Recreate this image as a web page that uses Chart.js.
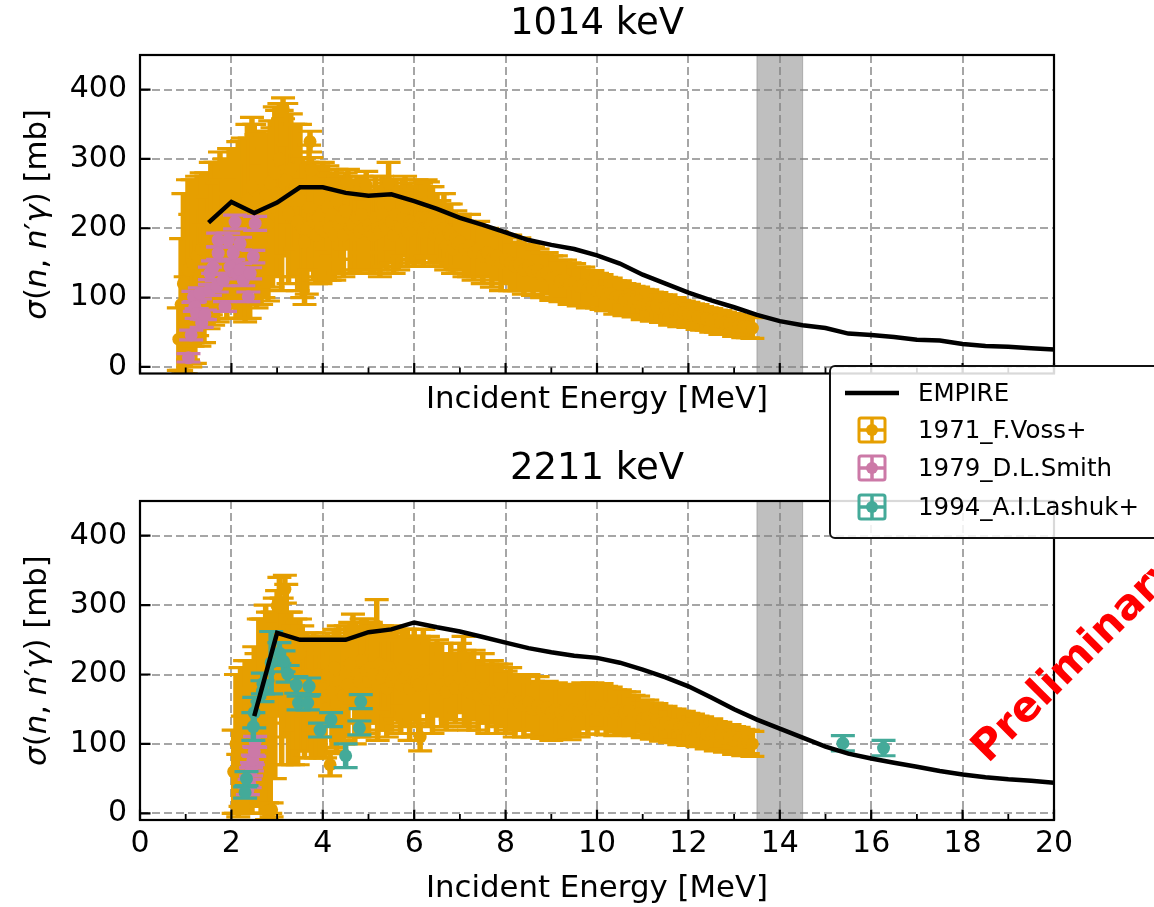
<!DOCTYPE html>
<html>
<head>
<meta charset="utf-8">
<title>n,n'gamma cross sections</title>
<script src="https://cdn.jsdelivr.net/npm/chart.js@4.4.0/dist/chart.umd.min.js"></script>
<style>
  html, body { margin: 0; padding: 0; background: #fff; }
  #page { position: relative; width: 1154px; height: 907px; overflow: hidden; font-family: "DejaVu Sans", sans-serif; }
  canvas { position: absolute; left: 0; }
  #c1 { top: 0; }
  #c2 { top: 440px; }
  #legend {
    position: absolute; left: 829px; top: 365px; width: 340px; height: 170px;
    border: 2px solid #111; border-radius: 6px; background: rgba(255,255,255,0.85);
    z-index: 5;
  }
  #legend .icon { position: absolute; }
  #legend .label { position: absolute; left: 87px; font-size: 24.5px; line-height: 1; color: #000; white-space: nowrap; }
</style>
</head>
<body>
<div id="page">
  <canvas id="c1" width="1154" height="440"></canvas>
  <canvas id="c2" width="1154" height="467"></canvas>
  <div id="legend"></div>
</div>
<script>
// axes
const xTicks = [0, 2, 4, 6, 8, 10, 12, 14, 16, 18, 20];
const xMinorTicks = [1, 3, 5, 7, 9, 11, 13, 15, 17, 19];
const yTicks = [0, 100, 200, 300, 400];
const bandRange = [13.5, 14.5];

// EMPIRE evaluation, 1014 keV
const empire1014E = [1.5, 2.0, 2.5, 3.0, 3.5, 4.0, 4.5, 5.0, 5.5, 6.0, 6.5, 7.0, 7.5, 8.0, 8.5, 9.0, 9.5, 10.0, 10.5, 11.0, 11.5, 12.0, 12.5, 13.0, 13.5, 14.0, 14.5, 15.0, 15.5, 16.0, 16.5, 17.0, 17.5, 18.0, 18.5, 19.0, 19.5, 20.0];
const empire1014Y = [208, 238, 222, 237, 259, 259, 251, 247, 249, 239, 228, 215, 205, 194, 183, 176, 170, 161, 149, 133, 120, 107, 96, 86, 75, 66, 60, 56, 48, 46, 43, 39, 38, 33, 30, 29, 27, 25];

// EMPIRE evaluation, 2211 keV
const empire2211E = [2.5, 3.0, 3.5, 4.0, 4.5, 5.0, 5.5, 6.0, 6.5, 7.0, 7.5, 8.0, 8.5, 9.0, 9.5, 10.0, 10.5, 11.0, 11.5, 12.0, 12.5, 13.0, 13.5, 14.0, 14.5, 15.0, 15.5, 16.0, 16.5, 17.0, 17.5, 18.0, 18.5, 19.0, 19.5, 20.0];
const empire2211Y = [140, 260, 250, 250, 250, 261, 265, 275, 268, 262, 254, 246, 238, 232, 227, 224, 217, 207, 196, 183, 167, 150, 135, 122, 109, 96, 86, 79, 73, 67, 61, 56, 52, 49, 47, 44];

// 1971_F.Voss+, 1014 keV
const voss1014E = [0.85, 0.90, 0.95, 1.00, 1.05, 1.10, 1.15, 1.20, 1.25, 1.30, 1.35, 1.40, 1.45, 1.50, 1.55, 1.60, 1.65, 1.70, 1.75, 1.80, 1.85, 1.90, 1.95, 2.00, 2.05, 2.10, 2.15, 2.20, 2.25, 2.30, 2.35, 2.40, 2.45, 2.50, 2.55, 2.60, 2.65, 2.70, 2.75, 2.80, 2.85, 2.90, 2.95, 3.00, 3.05, 3.10, 3.13, 3.20, 3.25, 3.30, 3.35, 3.40, 3.45, 3.50, 3.55, 3.60, 3.65, 3.70, 3.72, 3.75, 3.80, 3.85, 3.90, 3.95, 4.00, 4.05, 4.10, 4.15, 4.20, 4.25, 4.30, 4.35, 4.40, 4.45, 4.50, 4.55, 4.60, 4.65, 4.70, 4.75, 4.80, 4.85, 4.90, 4.95, 5.00, 5.05, 5.10, 5.15, 5.20, 5.25, 5.30, 5.35, 5.40, 5.44, 5.50, 5.55, 5.60, 5.65, 5.70, 5.75, 5.80, 5.85, 5.90, 5.95, 6.00, 6.05, 6.10, 6.15, 6.20, 6.25, 6.30, 6.35, 6.40, 6.45, 6.50, 6.55, 6.60, 6.65, 6.70, 6.75, 6.80, 6.85, 6.90, 6.95, 7.00, 7.10, 7.20, 7.30, 7.40, 7.50, 7.60, 7.70, 7.80, 7.90, 8.00, 8.10, 8.20, 8.30, 8.40, 8.50, 8.60, 8.70, 8.80, 8.90, 9.00, 9.10, 9.20, 9.30, 9.40, 9.50, 9.60, 9.70, 9.80, 9.90, 10.00, 10.10, 10.20, 10.30, 10.40, 10.50, 10.60, 10.70, 10.80, 10.90, 11.00, 11.10, 11.20, 11.30, 11.40, 11.50, 11.60, 11.70, 11.80, 11.90, 12.00, 12.10, 12.20, 12.30, 12.40, 12.50, 12.60, 12.70, 12.80, 12.90, 13.00, 13.10, 13.20, 13.30, 13.40];
const voss1014Y = [40, 90, 120, 60, 140, 110, 150, 95, 160, 130, 170, 120, 175, 150, 185, 140, 190, 165, 200, 175, 195, 160, 210, 185, 200, 170, 215, 190, 225, 180, 240, 200, 260, 230, 210, 245, 190, 220, 250, 205, 265, 230, 280, 250, 300, 240, 373, 270, 220, 285, 240, 260, 210, 240, 200, 180, 200, 230, 325, 284, 210, 190, 215, 200, 225, 195, 230, 200, 220, 190, 240, 205, 215, 190, 225, 265, 200, 205, 190, 215, 195, 220, 200, 262, 205, 195, 190, 215, 200, 195, 220, 205, 200, 265, 210, 190, 220, 200, 200, 215, 230, 195, 210, 205, 200, 235, 205, 215, 195, 215, 212, 205, 210, 190, 205, 195, 185, 200, 175, 195, 190, 170, 185, 178, 180, 170, 175, 165, 170, 160, 165, 155, 160, 150, 155, 150, 145, 148, 140, 145, 138, 140, 132, 135, 128, 130, 124, 126, 120, 122, 116, 118, 112, 114, 110, 108, 105, 106, 100, 102, 97, 98, 94, 95, 90, 91, 87, 88, 84, 85, 80, 82, 77, 78, 75, 74, 72, 70, 69, 67, 66, 64, 63, 62, 60, 59, 58, 57, 56];
const voss1014Err = [45, 95, 130, 70, 130, 110, 120, 90, 115, 100, 110, 85, 105, 95, 110, 80, 105, 100, 110, 95, 105, 90, 105, 100, 115, 100, 110, 120, 105, 115, 110, 130, 100, 120, 125, 95, 100, 120, 85, 110, 90, 115, 95, 120, 80, 130, 15, 110, 100, 80, 110, 90, 100, 110, 100, 90, 95, 90, 15, 18, 85, 70, 75, 80, 70, 70, 60, 75, 60, 65, 45, 70, 60, 60, 55, 20, 65, 65, 55, 60, 60, 55, 60, 20, 65, 60, 55, 60, 60, 65, 55, 60, 60, 30, 60, 55, 50, 60, 55, 55, 45, 50, 55, 55, 55, 35, 55, 50, 50, 55, 55, 55, 50, 40, 45, 45, 40, 50, 35, 40, 45, 35, 40, 38, 40, 40, 45, 40, 40, 40, 35, 40, 35, 40, 35, 40, 35, 38, 35, 32, 35, 30, 32, 30, 32, 30, 30, 28, 30, 27, 28, 26, 27, 25, 25, 25, 24, 22, 24, 22, 23, 21, 22, 20, 22, 20, 21, 19, 20, 19, 20, 18, 19, 17, 18, 17, 18, 17, 16, 17, 16, 17, 16, 15, 16, 15, 16, 15, 15];

// 1979_D.L.Smith, 1014 keV
const smith1014E = [1.06, 1.12, 1.17, 1.20, 1.24, 1.31, 1.35, 1.42, 1.53, 1.53, 1.60, 1.68, 1.71, 1.71, 1.82, 1.86, 1.93, 1.97, 2.04, 2.08, 2.12, 2.19, 2.19, 2.26, 2.37, 2.41, 2.48, 2.52];
const smith1014Y = [13, 46, 101, 87, 77, 106, 63, 75, 135, 111, 144, 116, 183, 164, 125, 87, 183, 144, 164, 209, 135, 178, 140, 125, 101, 135, 159, 207];
const smith1014Err = [6, 7, 8, 7, 7, 8, 6, 7, 9, 8, 9, 8, 10, 9, 8, 7, 10, 9, 9, 10, 8, 9, 9, 8, 7, 8, 9, 10];

// 1971_F.Voss+, 2211 keV
const voss2211E = [2.05, 2.10, 2.15, 2.20, 2.25, 2.30, 2.35, 2.40, 2.45, 2.50, 2.55, 2.60, 2.65, 2.70, 2.75, 2.78, 2.80, 2.85, 2.88, 2.90, 2.95, 3.00, 3.05, 3.10, 3.17, 3.20, 3.25, 3.30, 3.35, 3.40, 3.45, 3.50, 3.55, 3.60, 3.65, 3.70, 3.75, 3.80, 3.85, 3.90, 3.95, 4.00, 4.05, 4.10, 4.16, 4.20, 4.25, 4.30, 4.35, 4.40, 4.45, 4.50, 4.55, 4.60, 4.66, 4.70, 4.75, 4.80, 4.85, 4.90, 4.95, 5.00, 5.05, 5.10, 5.18, 5.20, 5.25, 5.30, 5.35, 5.40, 5.45, 5.50, 5.55, 5.60, 5.65, 5.70, 5.75, 5.80, 5.85, 5.90, 5.95, 6.00, 6.05, 6.10, 6.13, 6.20, 6.30, 6.40, 6.50, 6.60, 6.70, 6.80, 6.90, 7.00, 7.08, 7.10, 7.20, 7.30, 7.40, 7.50, 7.60, 7.70, 7.80, 7.90, 8.00, 8.10, 8.20, 8.30, 8.40, 8.50, 8.60, 8.70, 8.80, 8.90, 9.00, 9.10, 9.20, 9.30, 9.40, 9.50, 9.60, 9.70, 9.80, 9.90, 10.00, 10.10, 10.20, 10.30, 10.40, 10.50, 10.60, 10.70, 10.80, 10.90, 11.00, 11.10, 11.20, 11.30, 11.40, 11.50, 11.60, 11.70, 11.80, 11.90, 12.00, 12.10, 12.20, 12.30, 12.40, 12.50, 12.60, 12.70, 12.80, 12.90, 13.00, 13.10, 13.20, 13.30, 13.40];
const voss2211Y = [60, 100, 40, 110, 70, 130, 90, 150, 60, 160, 120, 190, 140, 200, 150, 3, 230, 120, 5, 210, 180, 299, 240, 190, 323, 220, 180, 230, 170, 200, 160, 230, 180, 150, 200, 170, 140, 190, 160, 200, 155, 180, 150, 200, 70, 175, 210, 160, 190, 175, 170, 200, 185, 215, 267, 175, 200, 190, 220, 180, 205, 190, 210, 200, 270, 185, 215, 195, 205, 180, 210, 190, 200, 200, 190, 185, 210, 195, 205, 180, 195, 200, 190, 185, 110, 205, 190, 180, 195, 185, 175, 190, 180, 195, 225, 180, 175, 185, 170, 180, 165, 175, 165, 170, 160, 165, 155, 160, 155, 160, 150, 155, 148, 152, 145, 150, 145, 148, 142, 150, 148, 155, 150, 155, 150, 155, 148, 152, 145, 148, 145, 148, 141, 143, 136, 138, 133, 134, 129, 131, 126, 128, 123, 125, 121, 122, 118, 119, 114, 116, 111, 112, 108, 109, 105, 106, 102, 103, 100];
const voss2211Err = [60, 100, 45, 100, 70, 90, 90, 70, 60, 80, 110, 90, 140, 80, 150, 12, 60, 120, 10, 80, 130, 22, 100, 120, 20, 110, 110, 60, 100, 80, 90, 50, 90, 70, 60, 80, 60, 70, 80, 55, 75, 70, 70, 60, 16, 80, 55, 70, 80, 70, 70, 70, 75, 60, 20, 75, 65, 80, 60, 70, 75, 75, 65, 70, 38, 80, 55, 75, 60, 70, 60, 70, 60, 65, 60, 70, 55, 70, 60, 75, 60, 65, 60, 70, 20, 60, 65, 65, 55, 60, 55, 55, 50, 50, 30, 55, 55, 50, 50, 50, 50, 45, 50, 45, 45, 45, 45, 40, 45, 40, 40, 42, 40, 38, 40, 38, 36, 36, 36, 35, 38, 33, 36, 33, 36, 32, 35, 30, 33, 30, 30, 27, 29, 26, 27, 25, 26, 24, 25, 23, 24, 22, 24, 22, 23, 21, 22, 20, 21, 20, 21, 19, 20, 19, 20, 18, 19, 17, 18];

// 1979_D.L.Smith, 2211 keV
const smith2211E = [2.36, 2.40, 2.43, 2.45, 2.47, 2.50, 2.52];
const smith2211Y = [33, 43, 60, 67, 77, 89, 103];
const smith2211Err = [6, 6, 6, 6, 7, 7, 8];

// 1994_A.I.Lashuk+, 2211 keV
const lashuk2211E = [2.30, 2.33, 2.48, 2.50, 2.68, 2.69, 2.87, 3.05, 3.14, 3.23, 3.42, 3.47, 3.67, 3.70, 3.94, 4.18, 4.50, 4.80, 4.83, 15.38, 16.27];
const lashuk2211Y = [30, 50, 125, 145, 176, 187, 217, 231, 219, 201, 185, 159, 159, 183, 120, 135, 83, 123, 161, 101, 94];
const lashuk2211Err = [8, 10, 20, 22, 15, 15, 45, 15, 15, 12, 12, 10, 10, 12, 10, 10, 17, 10, 10, 11, 11];

const legendLabels = ['EMPIRE', '1971_F.Voss+', '1979_D.L.Smith', '1994_A.I.Lashuk+'];
const colors = { empire: '#000000', voss: '#E69F00', smith: '#CC79A7', lashuk: '#44AA99' };

const yLabelParts = [['σ', true], ['(', false], ['n', true], [', ', false], ['n', true], ['′', false], ['γ', true], [')', false], [' [mb]', false]];
const FONT = "'DejaVu Sans', sans-serif";

Chart.defaults.font.family = FONT;
Chart.defaults.color = '#000';

const toPoints = (E, Y, Err) => E.map((e, i) => ({ x: e, y: Y[i], err: Err ? Err[i] : 0 }));

function lineSet(E, Y) {
  return {
    type: 'line', label: 'EMPIRE', data: toPoints(E, Y),
    borderColor: colors.empire, borderWidth: 4.5, pointRadius: 0, showLine: true,
    fill: false, tension: 0, order: 0
  };
}

function expSet(label, color, E, Y, Err, order) {
  return {
    label, data: toPoints(E, Y, Err), errorBars: true,
    backgroundColor: color, borderColor: color,
    pointRadius: 6.5, pointBorderWidth: 0, pointHoverRadius: 6.5, order
  };
}

// draws y error bars with caps just before each dataset's markers
const errorBarPlugin = {
  id: 'errorBars',
  beforeDatasetDraw(chart, args) {
    const ds = chart.data.datasets[args.index];
    if (!ds.errorBars) return;
    const { ctx, chartArea: a, scales: { x, y } } = chart;
    const cap = 12;
    ctx.save();
    ctx.beginPath();
    ctx.rect(a.left, a.top, a.width, a.height);
    ctx.clip();
    ctx.strokeStyle = ds.borderColor;
    ds.data.forEach(p => {
      const px = x.getPixelForValue(p.x);
      const lo = y.getPixelForValue(p.y - p.err);
      const hi = y.getPixelForValue(p.y + p.err);
      ctx.lineWidth = 5.5;
      ctx.beginPath();
      ctx.moveTo(px, lo);
      ctx.lineTo(px, hi);
      ctx.stroke();
      ctx.lineWidth = 3.2;
      ctx.beginPath();
      ctx.moveTo(px - cap, lo); ctx.lineTo(px + cap, lo);
      ctx.moveTo(px - cap, hi); ctx.lineTo(px + cap, hi);
      ctx.stroke();
    });
    ctx.restore();
  }
};

// band, frame, inward ticks, y label, stamp
const decorPlugin = {
  id: 'decor',
  beforeDatasetsDraw(chart) {
    const { ctx, chartArea: a, scales: { x } } = chart;
    const x0 = x.getPixelForValue(bandRange[0]);
    const x1 = x.getPixelForValue(bandRange[1]);
    ctx.save();
    ctx.fillStyle = 'rgba(128,128,128,0.5)';
    ctx.fillRect(x0, a.top, x1 - x0, a.height);
    ctx.strokeStyle = 'rgba(128,128,128,0.5)';
    ctx.lineWidth = 1;
    ctx.strokeRect(x0, a.top, x1 - x0, a.height);
    ctx.restore();
  },
  afterDraw(chart, args, opts) {
    const { ctx, chartArea: a, scales: { x, y } } = chart;
    ctx.save();
    ctx.strokeStyle = '#000';
    ctx.lineWidth = 2.2;
    ctx.beginPath();
    xTicks.forEach(v => {
      const px = x.getPixelForValue(v);
      ctx.moveTo(px, a.bottom); ctx.lineTo(px, a.bottom - 10.5);
    });
    yTicks.forEach(v => {
      const py = y.getPixelForValue(v);
      ctx.moveTo(a.left, py); ctx.lineTo(a.left + 10.5, py);
    });
    ctx.stroke();
    ctx.lineWidth = 1.8;
    ctx.beginPath();
    xMinorTicks.forEach(v => {
      const px = x.getPixelForValue(v);
      ctx.moveTo(px, a.bottom); ctx.lineTo(px, a.bottom - 6);
    });
    ctx.stroke();
    ctx.lineWidth = 2.2;
    ctx.strokeRect(a.left, a.top, a.width, a.height);

    // y axis label with math italics
    ctx.translate(37.5, (a.top + a.bottom) / 2);
    ctx.rotate(-Math.PI / 2);
    ctx.fillStyle = '#000';
    ctx.textBaseline = 'middle';
    ctx.textAlign = 'left';
    const fontFor = it => (it ? 'italic ' : '') + '30.8px ' + FONT;
    let total = 0;
    yLabelParts.forEach(([t, it]) => { ctx.font = fontFor(it); total += ctx.measureText(t).width; });
    let cx = -total / 2;
    yLabelParts.forEach(([t, it]) => {
      ctx.font = fontFor(it);
      ctx.fillText(t, cx, 0);
      cx += ctx.measureText(t).width;
    });
    ctx.restore();

    if (opts.stamp) {
      ctx.save();
      ctx.translate(opts.stamp.x, opts.stamp.y);
      ctx.rotate(-Math.PI / 4);
      ctx.font = 'bold 42px ' + FONT;
      ctx.fillStyle = '#ff0000';
      ctx.textBaseline = 'alphabetic';
      ctx.fillText(opts.stamp.text, 0, 0);
      ctx.restore();
    }
  }
};

function panelConfig(title, datasets, p) {
  const axisCommon = {
    type: 'linear',
    grid: { color: '#a6a6a6', lineWidth: 2, drawTicks: false },
    border: { display: false, dash: [8, 4] }
  };
  return {
    type: 'scatter',
    data: { datasets },
    options: {
      responsive: false,
      animation: false,
      events: [],
      layout: { padding: { left: 0, right: 100, top: 0, bottom: 0 } },
      plugins: {
        legend: { display: false },
        tooltip: { enabled: false },
        title: {
          display: true, text: title, color: '#000', fullSize: false,
          font: { size: 37, weight: 'normal', family: FONT },
          padding: p.titlePad
        },
        decor: { stamp: p.stamp }
      },
      scales: {
        x: Object.assign({}, axisCommon, {
          min: 0, max: 20,
          afterBuildTicks: ax => { ax.ticks = xTicks.map(v => ({ value: v })); },
          afterFit: ax => { ax.height = p.xAxisHeight; },
          ticks: { display: p.showXTicks, font: { size: 30 }, color: '#000', padding: 6.5, maxRotation: 0, autoSkip: false },
          title: { display: true, text: 'Incident Energy [MeV]', color: '#000', font: { size: 30.8 }, padding: { top: 0, bottom: p.xTitleBottom } }
        }),
        y: Object.assign({}, axisCommon, {
          min: -9.6, max: 450,
          afterBuildTicks: ax => { ax.ticks = yTicks.map(v => ({ value: v })); },
          afterFit: ax => { ax.width = 140; },
          ticks: { font: { size: 30 }, color: '#000', padding: 13 }
        })
      }
    },
    plugins: [errorBarPlugin, decorPlugin]
  };
}

new Chart(document.getElementById('c1'), panelConfig('1014 keV', [
  lineSet(empire1014E, empire1014Y),
  expSet(legendLabels[1], colors.voss, voss1014E, voss1014Y, voss1014Err, 3),
  expSet(legendLabels[2], colors.smith, smith1014E, smith1014Y, smith1014Err, 2)
], { titlePad: { top: 2.5, bottom: 8.1 }, xAxisHeight: 66.5, showXTicks: false, xTitleBottom: 21.9, stamp: null }));

new Chart(document.getElementById('c2'), panelConfig('2211 keV', [
  lineSet(empire2211E, empire2211Y),
  expSet(legendLabels[1], colors.voss, voss2211E, voss2211Y, voss2211Err, 3),
  expSet(legendLabels[2], colors.smith, smith2211E, smith2211Y, smith2211Err, 2),
  expSet(legendLabels[3], colors.lashuk, lashuk2211E, lashuk2211Y, lashuk2211Err, 1)
], { titlePad: { top: 7.4, bottom: 9.2 }, xAxisHeight: 87, showXTicks: true, xTitleBottom: 0, stamp: { text: 'Preliminary', x: 988, y: 324 } }));

// legend box shared by both panels
const legend = document.getElementById('legend');
const legendColors = [colors.empire, colors.voss, colors.smith, colors.lashuk];
const rowCenters = [26, 63, 101, 140];
legendLabels.forEach((lab, i) => {
  const cy = rowCenters[i];
  let icon;
  if (i === 0) {
    icon = `<svg class="icon" style="left:14px;top:${cy - 4}px" width="54" height="8"><line x1="0" y1="4" x2="54" y2="4" stroke="#000" stroke-width="4.5"/></svg>`;
  } else {
    const c = legendColors[i];
    icon = `<svg class="icon" style="left:26px;top:${cy - 14}px" width="30" height="28">
      <rect x="2" y="2" width="26" height="24" rx="2" fill="none" stroke="${c}" stroke-width="3"/>
      <line x1="15" y1="2" x2="15" y2="26" stroke="${c}" stroke-width="3.5"/>
      <line x1="2" y1="14" x2="28" y2="14" stroke="${c}" stroke-width="3.5"/>
      <circle cx="15" cy="14" r="6" fill="${c}"/></svg>`;
  }
  legend.insertAdjacentHTML('beforeend', icon + `<span class="label" style="top:${cy - 12.25}px">${lab}</span>`);
});
</script>
</body>
</html>
